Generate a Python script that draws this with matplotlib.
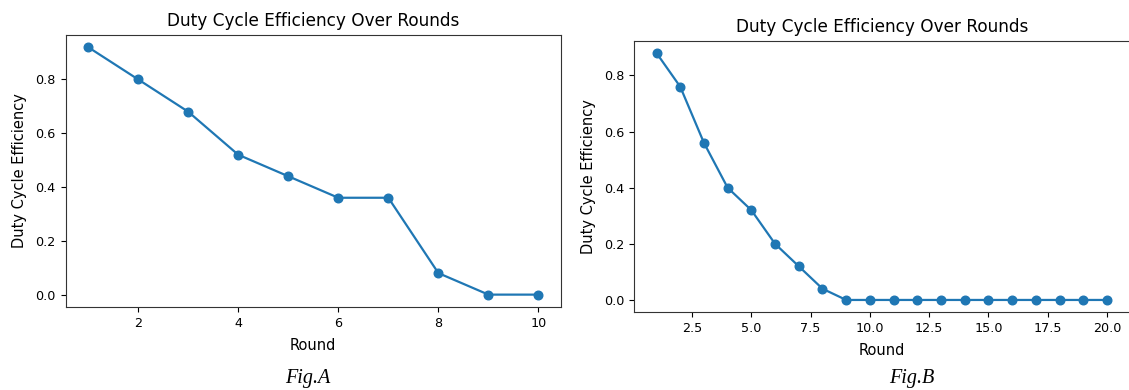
import matplotlib
matplotlib.use("Agg")
import matplotlib.pyplot as plt

# Data
rounds_a = [1, 2, 3, 4, 5, 6, 7, 8, 9, 10]
eff_a = [0.92, 0.80, 0.68, 0.52, 0.44, 0.36, 0.36, 0.08, 0.00, 0.00]

rounds_b = list(range(1, 21))
eff_b = [0.88, 0.76, 0.56, 0.40, 0.32, 0.20, 0.12, 0.04] + [0.00] * 12

title = "Duty Cycle Efficiency Over Rounds"
xlabel = "Round"
ylabel = "Duty Cycle Efficiency"
captions = ["Fig.A", "Fig.B"]

W, H = 1129, 390
fig = plt.figure(figsize=(W / 100, H / 100), dpi=100)

def px_axes(x0, y0, x1, y1):
    return fig.add_axes([x0 / W, 1 - y1 / H, (x1 - x0) / W, (y1 - y0) / H])

fs_tick = 9.2
fs_label = 10.5
fs_title = 12.2

axA = px_axes(65.5, 34.7, 561, 307)
axB = px_axes(634, 40.7, 1129.5, 312.3)

for ax, x, y in [(axA, rounds_a, eff_a), (axB, rounds_b, eff_b)]:
    ax.plot(x, y, marker="o", color="#1f77b4", linewidth=1.6, markersize=6.2)
    ax.set_title(title, fontsize=fs_title, pad=6)
    ax.set_xlabel(xlabel, fontsize=fs_label, labelpad=6)
    ax.set_ylabel(ylabel, fontsize=fs_label, labelpad=6)
    ax.tick_params(labelsize=fs_tick, length=3.5)
    ax.set_yticks([0.0, 0.2, 0.4, 0.6, 0.8])
    for s in ax.spines.values():
        s.set_color("#333333")

axA.set_xticks([2, 4, 6, 8, 10])

fig.text(308 / W, 1 - 378 / H, captions[0], ha="center", va="center",
         fontsize=14.5, style="italic", family="Liberation Serif")
fig.text(912 / W, 1 - 378 / H, captions[1], ha="center", va="center",
         fontsize=14.5, style="italic", family="Liberation Serif")

fig.savefig("out.png", dpi=100)
